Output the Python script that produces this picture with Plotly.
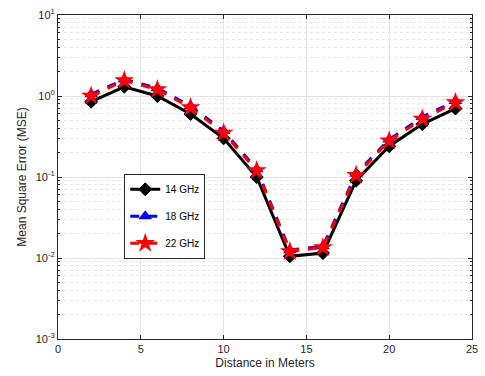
import plotly.graph_objects as go

distance = [2, 4, 6, 8, 10, 12, 14, 16, 18, 20, 22, 24]
mse_14 = [0.85, 1.3, 1.0, 0.6, 0.3, 0.1, 0.0105, 0.0115, 0.09, 0.24, 0.45, 0.7]
mse_18 = [1.05, 1.6, 1.25, 0.75, 0.37, 0.125, 0.0125, 0.014, 0.11, 0.29, 0.55, 0.87]
mse_22 = [1.0, 1.55, 1.2, 0.72, 0.35, 0.12, 0.012, 0.0135, 0.105, 0.28, 0.52, 0.83]
names = ["14 GHz", "18 GHz", "22 GHz"]
ytick_vals = [1e-3, 1e-2, 1e-1, 1e0, 1e1]
ytick_text = ["10<sup>-3</sup>", "10<sup>-2</sup>", "10<sup>-1</sup>", "10<sup>0</sup>", "10<sup>1</sup>"]

fig = go.Figure()
fig.add_trace(go.Scatter(x=distance, y=mse_14, name=names[0], mode="lines+markers",
                         legendgroup="a",
                         line=dict(color="black", width=3),
                         marker=dict(symbol="diamond", size=10, color="black",
                                     line=dict(color="black", width=1))))
fig.add_trace(go.Scatter(x=distance, y=mse_18, name=names[1], mode="lines+markers",
                         legendgroup="b",
                         line=dict(color="blue", width=3, dash="dash"),
                         marker=dict(symbol="triangle-up", size=12, color="blue")))
fig.add_trace(go.Scatter(x=distance, y=mse_22, name=names[2], mode="lines+markers",
                         legendgroup="c",
                         line=dict(color="red", width=3, dash="dash"),
                         marker=dict(symbol="star", size=15, color="red")))

font = "Liberation Sans, Arial, sans-serif"
fig.update_layout(
    width=485, height=376,
    margin=dict(l=58, r=7, t=13, b=37),
    paper_bgcolor="white", plot_bgcolor="white",
    font=dict(family=font, size=11, color="#262626"),
    legend=dict(x=0.16, y=0.51, xanchor="left", yanchor="top",
                bgcolor="white", bordercolor="#262626", borderwidth=1,
                font=dict(size=10, color="black"), itemwidth=30,
                tracegroupgap=8),
    showlegend=True,
)
fig.update_xaxes(range=[0, 25], tickvals=[0, 5, 10, 15, 20, 25],
                 showgrid=True, gridcolor="#e3e3e3", gridwidth=1,
                 showline=True, linecolor="#262626", linewidth=1, mirror="ticks",
                 ticks="inside", ticklen=4, tickcolor="#262626",
                 zeroline=False,
                 title=dict(text="Distance in Meters", standoff=4, font=dict(size=12)))
fig.update_yaxes(type="log", range=[-3, 1], tickvals=ytick_vals, ticktext=ytick_text,
                 showgrid=True, gridcolor="#e3e3e3", gridwidth=1,
                 showline=True, linecolor="#262626", linewidth=1, mirror="ticks",
                 ticks="inside", ticklen=4, tickcolor="#262626",
                 minor=dict(tickvals=[m * 10 ** e for e in range(-3, 1) for m in range(2, 10)],
                            showgrid=True, gridcolor="#e6e6e6", griddash="dot", gridwidth=1,
                            ticks="inside", ticklen=2, tickcolor="#262626"),
                 zeroline=False,
                 title=dict(text="Mean Square Error (MSE)", standoff=6, font=dict(size=12)))

fig.write_html("out.html")
